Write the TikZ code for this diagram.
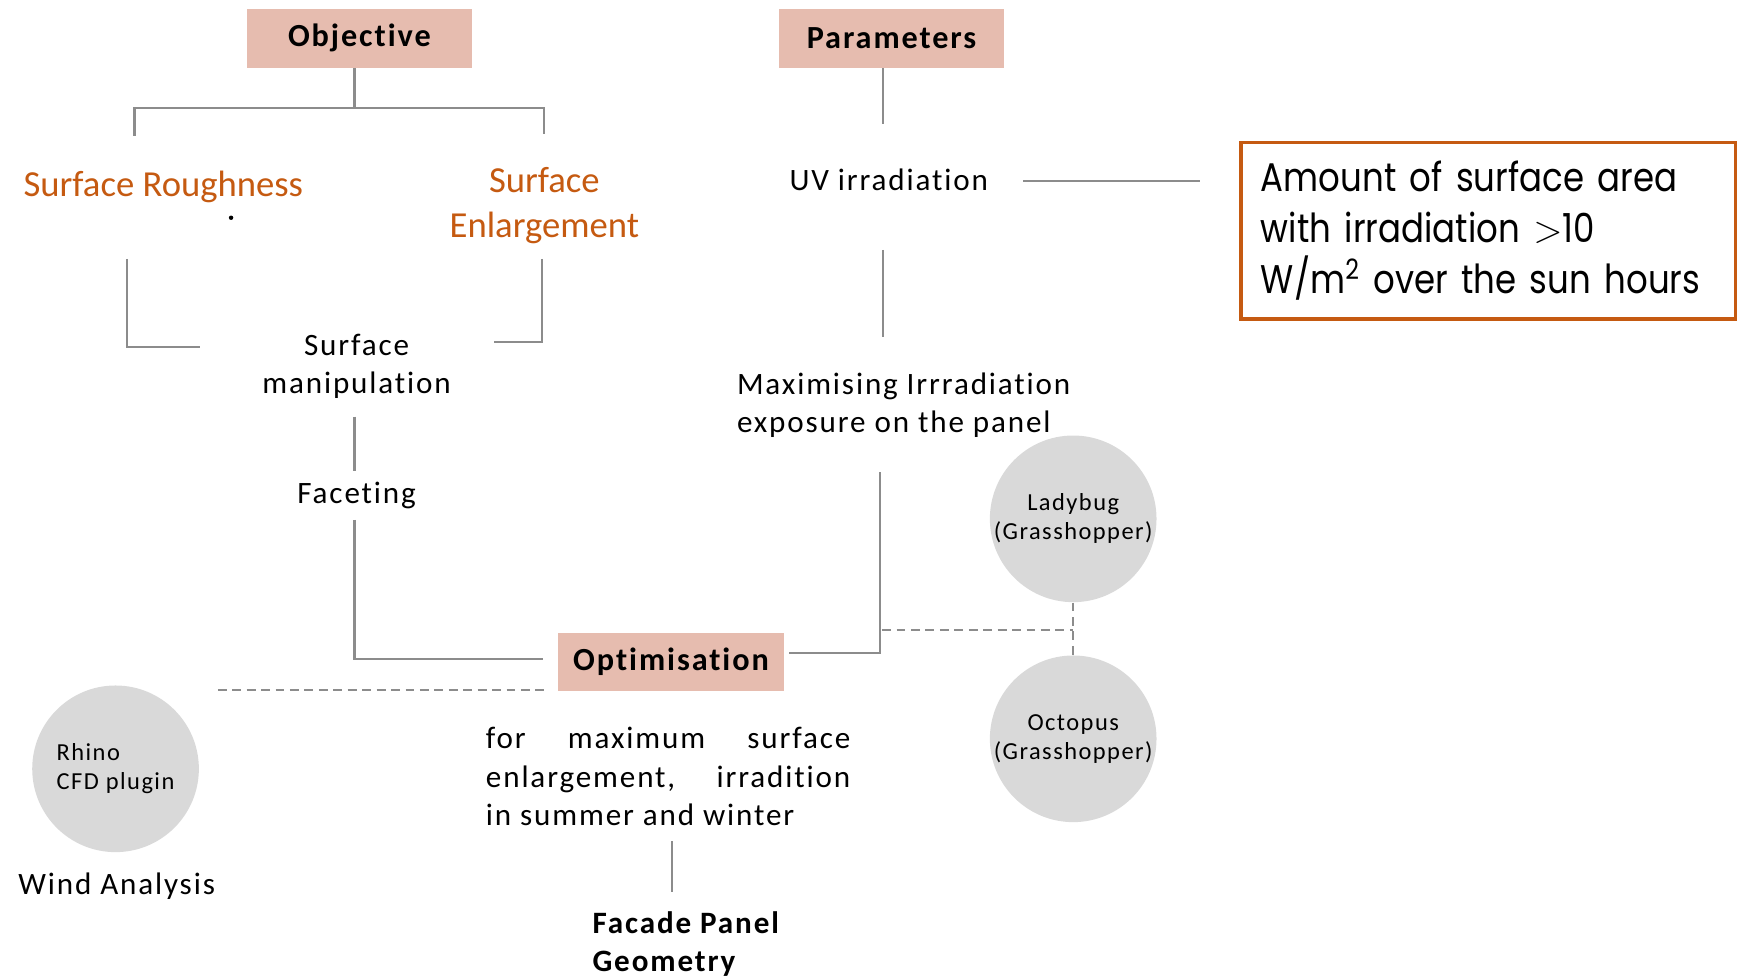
\documentclass[tikz,border=0pt]{standalone}
\usepackage{fontspec}
\setmainfont[Ligatures=NoCommon]{Carlito}
\newfontfamily\spc[LetterSpace=6,Ligatures=NoCommon]{Carlito}
\newfontfamily\geo[FakeStretch=0.85]{Poppins}
\definecolor{boxpink}{RGB}{230,188,175}
\definecolor{rust}{RGB}{197,90,17}
\definecolor{disc}{RGB}{217,217,217}
\definecolor{wire}{RGB}{140,140,140}
\begin{document}
\begin{tikzpicture}[x=0.5pt,y=-0.5pt,
  pinkbox/.style={fill=boxpink, minimum width=101.5pt, minimum height=26.5pt, inner sep=0pt,
    font=\spc\bfseries\fontsize{14.5}{18}\selectfont},
  plain/.style={inner sep=0pt, font=\spc\fontsize{14}{17.25}\selectfont},
  accent/.style={inner sep=0pt, text=rust, font=\fontsize{16.5}{20}\selectfont},
  tool/.style={circle, fill=disc, minimum size=75pt, inner sep=0pt, align=center,
    font=\spc\fontsize{11}{13}\selectfont},
  conn/.style={draw=wire, line width=1pt},
  link/.style={draw=wire, line width=1pt, dash pattern=on 4pt off 2.5pt}]
\useasboundingbox (0,0) rectangle (1568,879);

% header boxes
\node[pinkbox] (obj) at (323.5,34.5) {Objective};
\node[pinkbox] (par) at (802.5,34.5) {Parameters};
\node[pinkbox, minimum width=102pt, minimum height=26pt] (opt) at (604,596) {Optimisation};

% objective branch
\node[accent] (rough) at (147,168) {Surface Roughness};
\node[accent, align=center] (enl) at (490,185) {Surface\\Enlargement};
\node[plain, align=center] (manip) at (321,330) {Surface\\manipulation};
\node[plain] (facet) at (321,446) {Faceting};
\fill (208,196) circle (1pt);

% parameter branch
\node[plain] (uv) at (800,162) {UV irradiation};
\node[draw=rust, line width=1.5pt, minimum width=222.5pt, minimum height=79.5pt,
  text width=204.5pt, inner xsep=9pt, inner ysep=0pt, align=left,
  font=\geo\fontsize{18}{23}\selectfont] (amt) at (1339.5,207.5)
  {Amount of surface area\\with irradiation $>$10\\W/m\textsuperscript{2} over the sun hours};
\node[plain, align=left, anchor=west] (maxim) at (663,365)
  {Maximising Irrradiation\\exposure on the panel};

% tools
\node[tool] (lady) at (966,467) {Ladybug\\(Grasshopper)};
\node[tool] (octo) at (966,665) {Octopus\\(Grasshopper)};
\node[tool, align=left] (rhino) at (104,692) {Rhino\\CFD plugin};
\node[plain] (wind) at (105,798) {Wind Analysis};

% optimisation outputs
\node[plain, text width=164pt, align=justify, anchor=west,
  execute at begin node={\hyphenpenalty=10000\exhyphenpenalty=10000}] (goal) at (437,699)
  {for maximum surface\linebreak enlargement, irradition\linebreak in summer and winter};
\node[plain, font=\spc\bfseries\fontsize{14}{17.25}\selectfont, align=left, anchor=west] (geom) at (533,850)
  {Facade Panel\\Geometry};

% connector ends
\coordinate (bar) at (319,97);
\coordinate (roughtop) at (121,122);
\coordinate (enltop) at (490,121);
\coordinate (roughlow) at (114,233);
\coordinate (maniplft) at (180,312);
\coordinate (enllow) at (488,233);
\coordinate (maniprgt) at (445,308);
\coordinate (maniplow) at (319,375);
\coordinate (facettop) at (319,424);
\coordinate (facetlow) at (319,468);
\coordinate (optlft) at (489,593);
\coordinate (uvtop) at (795,112);
\coordinate (uvlow) at (795,225);
\coordinate (maximtop) at (795,303);
\coordinate (uvrgt) at (921,163);
\coordinate (amtlft) at (1080,163);
\coordinate (maximlow) at (792,425);
\coordinate (optrgt) at (710,588);
\coordinate (toolbar) at (794,567);
\coordinate (rhinoend) at (196,621);
\coordinate (optdash) at (494,621);
\coordinate (goallow) at (605,757);
\coordinate (geomtop) at (605,803);

% solid connectors
\draw[conn] (obj.south -| bar) -- (bar);
\draw[conn] (roughtop) |- (bar) -| (enltop);
\draw[conn] (roughlow) |- (maniplft);
\draw[conn] (enllow) |- (maniprgt);
\draw[conn] (maniplow) -- (facettop);
\draw[conn] (facetlow) |- (optlft);
\draw[conn] (par.south -| uvtop) -- (uvtop);
\draw[conn] (uvrgt) -- (amtlft);
\draw[conn] (uvlow) -- (maximtop);
\draw[conn] (maximlow) |- (optrgt);
\draw[conn] (goallow) -- (geomtop);

% dashed links to tools
\draw[link] (lady.south) -- (octo.north);
\draw[link] (toolbar) -- (toolbar -| lady.south);
\draw[link] (rhinoend) -- (optdash);
\end{tikzpicture}
\end{document}
